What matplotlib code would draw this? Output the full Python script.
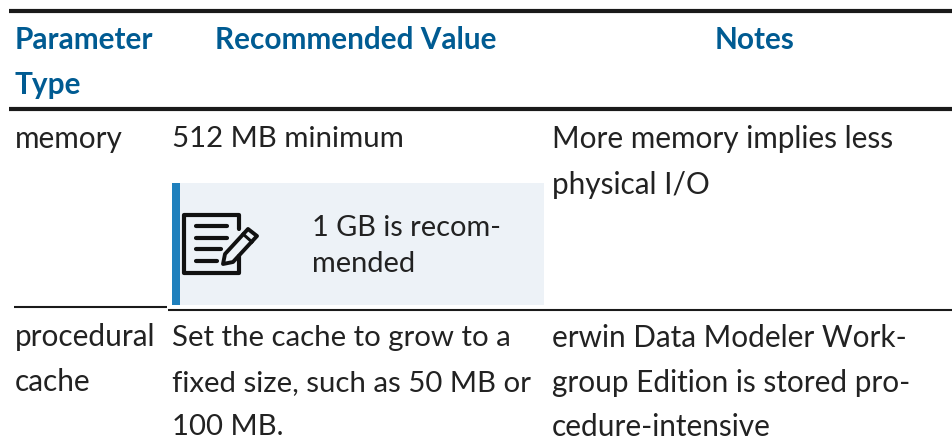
import matplotlib
matplotlib.use("Agg")
import matplotlib.pyplot as plt
from matplotlib.patches import Rectangle, Polygon

FONT = "Lato"
BLUE = "#005b92"
INK = "#222222"
ICON = "#111111"
SIZE = 21.4

# header text
headers = ["Parameter", "Type", "Recommended Value", "Notes"]
# body text, one entry per printed line
col_type = ["memory", "procedural", "cache"]
col_value = ["512 MB minimum", "Set the cache to grow to a", "fixed size, such as 50 MB or", "100 MB."]
col_notes = ["More memory implies less", "physical I/O", "erwin Data Modeler Work-",
             "group Edition is stored pro-", "cedure-intensive"]
note_text = ["1 GB is recom-", "mended"]

fig = plt.figure(figsize=(9.53, 4.44), dpi=100)
ax = fig.add_axes([0, 0, 1, 1])
ax.set_xlim(0, 953)
ax.set_ylim(444, 0)
ax.axis("off")

# rules
ax.plot([9, 953], [11, 11], color="#1a1a1a", lw=3, solid_capstyle="butt")
ax.plot([9, 953], [109, 109], color="#1a1a1a", lw=3, solid_capstyle="butt")
ax.plot([14, 167], [307, 307], color="#1a1a1a", lw=1.5, solid_capstyle="butt")
ax.plot([168, 953], [309.5, 309.5], color="#1a1a1a", lw=1.5, solid_capstyle="butt")

# note box
ax.add_patch(Rectangle((172, 183), 372, 122, fc="#edf2f7", ec="none"))
ax.add_patch(Rectangle((172, 183), 8, 122, fc="#1f80bd", ec="none"))

# note icon, page outline with a gap where the pencil passes
ax.plot([239, 239, 184, 184, 239, 239], [229, 215, 215, 273, 273, 256], color=ICON, lw=3,
        solid_joinstyle="round", solid_capstyle="round")
for y0, x1 in zip([226, 238, 249, 261], [227, 227, 221, 217]):
    ax.plot([196, x1], [y0, y0], color=ICON, lw=3, solid_capstyle="round")
ax.add_patch(Polygon([[225, 254], [248, 229], [257, 236], [233, 262], [223, 264]],
                     closed=True, fc="#edf2f7", ec=ICON, lw=2.8, joinstyle="round"))
ax.plot([243, 252], [234, 242], color=ICON, lw=2.2)

# header
ax.text(15, 40, headers[0], color=BLUE, fontsize=SIZE, fontweight="bold", family=FONT, va="center")
ax.text(15, 85, headers[1], color=BLUE, fontsize=SIZE, fontweight="bold", family=FONT, va="center")
ax.text(356, 40, headers[2], color=BLUE, fontsize=SIZE, fontweight="bold", family=FONT, va="center", ha="center")
ax.text(755, 40, headers[3], color=BLUE, fontsize=SIZE, fontweight="bold", family=FONT, va="center", ha="center")

# body
for label, y in zip(col_type, [139, 337, 382]):
    ax.text(15, y, label, color=INK, fontsize=SIZE, family=FONT, va="center")
for label, y in zip(col_value, [139, 338, 383, 427]):
    ax.text(172, y, label, color=INK, fontsize=21.2, family=FONT, va="center")
for label, y in zip(col_notes, [139, 185, 338, 383, 427]):
    ax.text(552, y, label, color=INK, fontsize=SIZE, family=FONT, va="center")
for label, y in zip(note_text, [228, 264]):
    ax.text(312, y, label, color=INK, fontsize=20.9, family=FONT, va="center")

fig.savefig("out.png", dpi=100)
